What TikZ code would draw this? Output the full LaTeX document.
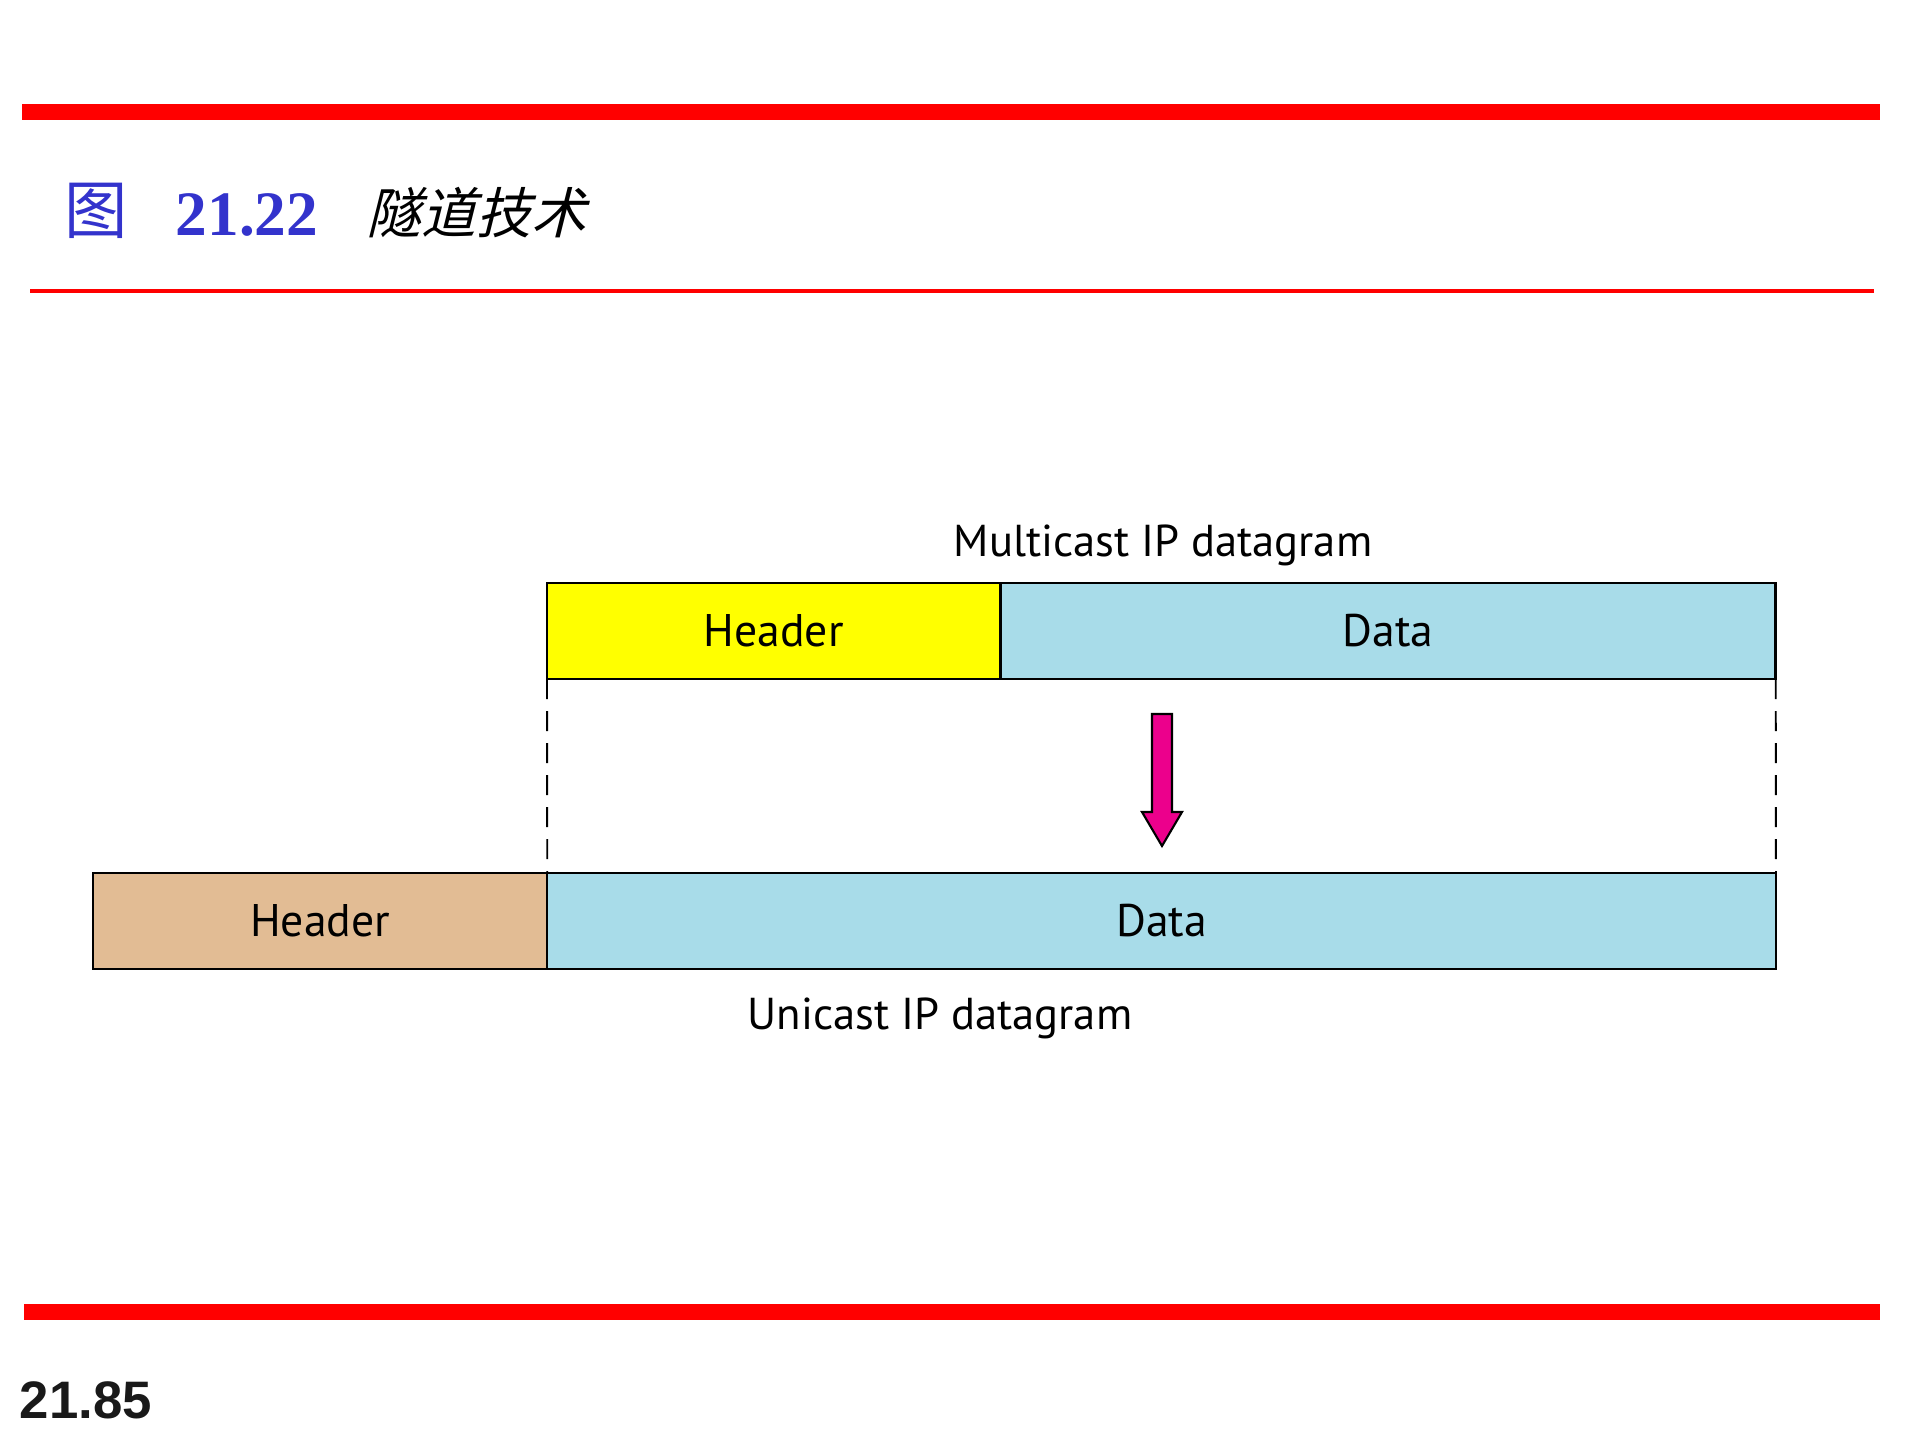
\documentclass[tikz,border=0pt]{standalone}
\usepackage{fontspec}
\usepackage{tikz}
\usetikzlibrary{positioning}

\newfontfamily\labelfont{PT Sans}
\newfontfamily\cjk{Noto Sans CJK SC}
\newfontfamily\cjkslant[FakeSlant=0.25]{Noto Sans CJK SC}
\newfontfamily\numserif{Liberation Serif}
\newfontfamily\pagefont{Liberation Sans}

\definecolor{rulered}{RGB}{255,0,0}
\definecolor{titleblue}{RGB}{51,51,204}
\definecolor{hdryellow}{RGB}{255,255,0}
\definecolor{datablue}{RGB}{168,220,233}
\definecolor{hdrtan}{RGB}{226,188,148}
\definecolor{arrowpink}{RGB}{236,0,140}

\begin{document}
\begin{tikzpicture}[x=0.01cm, y=-0.01cm,
  field/.style={draw=black, line width=0.7pt, minimum height=0.96cm, inner sep=0pt, outer sep=0pt, font=\labelfont\fontsize{13}{15}\selectfont},
  caption/.style={font=\labelfont\fontsize{12.7}{15}\selectfont, inner sep=0pt, anchor=base},
  guide/.style={draw=black, line width=0.55pt, dash pattern=on 5.7pt off 3.4pt},
  pinkarrow/.style={fill=arrowpink, draw=black, line width=0.6pt}]
\useasboundingbox (0,0) rectangle (1920,1440);

% slide rules
\fill[rulered] (22,104) rectangle (1880,120);
\fill[rulered] (30,289) rectangle (1874,293);
\fill[rulered] (24,1304) rectangle (1880,1320);

% title
\node[anchor=base west, inner sep=0pt, text=titleblue, font=\cjk\fontsize{18}{20}\selectfont] (fig) at (64,234) {图};
\node[anchor=base west, inner sep=0pt, text=titleblue, font=\numserif\bfseries\fontsize{18}{20}\selectfont] (fignum) at (175,236) {21.22};
\node[anchor=base west, inner sep=0pt, font=\cjkslant\fontsize{15.6}{20}\selectfont] (figtitle) at (366,234) {隧道技术};

% multicast datagram
\node[caption] (mlabel) at (1163,557) {Multicast IP datagram};
\node[field, fill=hdryellow, minimum width=4.53cm, anchor=north west] (mhead) at (547,583) {Header};
\node[field, fill=datablue, minimum width=7.75cm, right=0pt of mhead] (mdata) {Data};

% unicast datagram
\node[field, fill=hdrtan, minimum width=4.54cm, anchor=north west] (uhead) at (93,873) {Header};
\node[field, fill=datablue, minimum width=12.28cm, right=0pt of uhead] (udata) {Data};
\node[caption] (ulabel) at (940,1030) {Unicast IP datagram};

\draw[guide] (mhead.south west) -- (udata.north west);
\draw[guide] (mdata.south east) -- (udata.north east);

% arrow
\draw[pinkarrow] (1152,714) -- (1172,714) -- (1172,812) -- (1182,812) -- (1162,846) -- (1142,812) -- (1152,812) -- cycle;

% page number
\node[anchor=base west, inner sep=0pt, text=black!90, font=\pagefont\bfseries\fontsize{15}{17}\selectfont] (pageno) at (19,1419) {21.85};
\end{tikzpicture}
\end{document}
